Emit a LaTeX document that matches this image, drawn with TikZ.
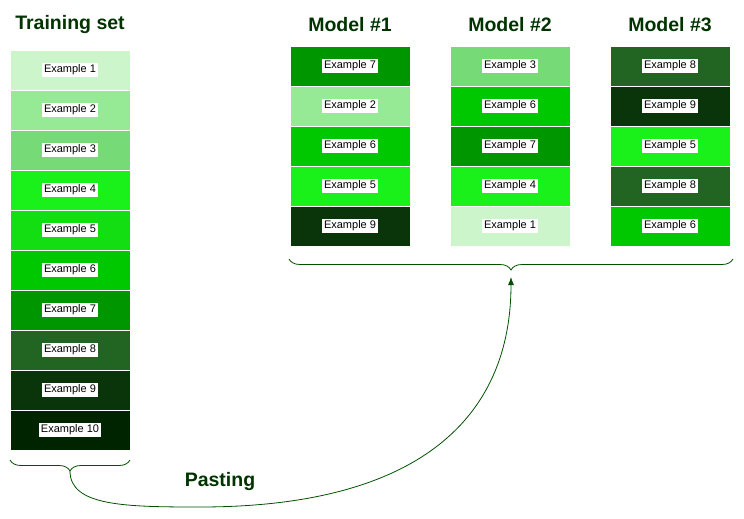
\documentclass[tikz,border=0pt]{standalone}
\usepackage{fontspec}
\setmainfont{Liberation Sans}
\usetikzlibrary{arrows.meta,positioning,decorations.pathreplacing}
\definecolor{ex1}{RGB}{204,245,204}
\definecolor{ex2}{RGB}{150,234,150}
\definecolor{ex3}{RGB}{118,218,118}
\definecolor{ex4}{RGB}{26,240,26}
\definecolor{ex5}{RGB}{18,222,18}
\definecolor{ex6}{RGB}{0,200,0}
\definecolor{ex7}{RGB}{0,150,0}
\definecolor{ex8}{RGB}{34,100,34}
\definecolor{ex9}{RGB}{10,52,10}
\definecolor{ex10}{RGB}{0,36,0}
\definecolor{darkgreen}{RGB}{0,51,0}
\definecolor{linegreen}{RGB}{0,80,0}
\newcommand{\ex}[1]{\colorbox{white}{#1}}
\tikzset{
  CellStyle/.style = {rectangle, draw=white, line width=0.8pt, outer sep=0pt,
                      minimum width=120pt, minimum height=40pt, inner sep=0pt,
                      font=\fontsize{11}{13}\selectfont},
  TitleStyle/.style = {text=darkgreen, font=\fontsize{19.5}{23}\selectfont\bfseries},
  BraceStyle/.style = {linegreen, line width=0.8pt,
                       decorate, decoration={brace, mirror, amplitude=11pt}},
  LinkStyle/.style = {linegreen, line width=0.8pt, -{Latex[width=6pt,length=8pt]}} }
\setlength{\fboxsep}{2pt}

\begin{document}
\begin{tikzpicture}[x=1pt,y=-1pt]
  \useasboundingbox (0,0) rectangle (744,519);
  % titles
  \node[TitleStyle] (title0) at (70,25) {Training set};
  \node[TitleStyle] (title1) at (350,25) {Model \#1};
  \node[TitleStyle] (title2) at (510,25) {Model \#2};
  \node[TitleStyle] (title3) at (670,25) {Model \#3};
  % training set
  \node[CellStyle, fill=ex1] (T1) at (70,70) {\ex{Example 1}};
  \node[CellStyle, fill=ex2, below=0pt of T1] (T2) {\ex{Example 2}};
  \node[CellStyle, fill=ex3, below=0pt of T2] (T3) {\ex{Example 3}};
  \node[CellStyle, fill=ex4, below=0pt of T3] (T4) {\ex{Example 4}};
  \node[CellStyle, fill=ex5, below=0pt of T4] (T5) {\ex{Example 5}};
  \node[CellStyle, fill=ex6, below=0pt of T5] (T6) {\ex{Example 6}};
  \node[CellStyle, fill=ex7, below=0pt of T6] (T7) {\ex{Example 7}};
  \node[CellStyle, fill=ex8, below=0pt of T7] (T8) {\ex{Example 8}};
  \node[CellStyle, fill=ex9, below=0pt of T8] (T9) {\ex{Example 9}};
  \node[CellStyle, fill=ex10, below=0pt of T9] (T10) {\ex{Example 10}};
  % model 1
  \node[CellStyle, fill=ex7] (A1) at (350,66) {\ex{Example 7}};
  \node[CellStyle, fill=ex2, below=0pt of A1] (A2) {\ex{Example 2}};
  \node[CellStyle, fill=ex6, below=0pt of A2] (A3) {\ex{Example 6}};
  \node[CellStyle, fill=ex4, below=0pt of A3] (A4) {\ex{Example 5}};
  \node[CellStyle, fill=ex9, below=0pt of A4] (A5) {\ex{Example 9}};
  % model 2
  \node[CellStyle, fill=ex3] (B1) at (510,66) {\ex{Example 3}};
  \node[CellStyle, fill=ex6, below=0pt of B1] (B2) {\ex{Example 6}};
  \node[CellStyle, fill=ex7, below=0pt of B2] (B3) {\ex{Example 7}};
  \node[CellStyle, fill=ex4, below=0pt of B3] (B4) {\ex{Example 4}};
  \node[CellStyle, fill=ex1, below=0pt of B4] (B5) {\ex{Example 1}};
  % model 3
  \node[CellStyle, fill=ex8] (C1) at (670,66) {\ex{Example 8}};
  \node[CellStyle, fill=ex9, below=0pt of C1] (C2) {\ex{Example 9}};
  \node[CellStyle, fill=ex4, below=0pt of C2] (C3) {\ex{Example 5}};
  \node[CellStyle, fill=ex8, below=0pt of C3] (C4) {\ex{Example 8}};
  \node[CellStyle, fill=ex6, below=0pt of C4] (C5) {\ex{Example 6}};
  % braces
  \draw[BraceStyle] ([yshift=-10pt]T10.south west) -- ([yshift=-10pt]T10.south east);
  \draw[BraceStyle] ([xshift=-1pt,yshift=-13pt]A5.south west) -- ([xshift=3pt,yshift=-13pt]C5.south east);
  \coordinate (tipT) at ([yshift=-21pt]T10.south);
  \coordinate (low) at (200,507);
  \coordinate (tipM) at (511,277);
  % pasting
  \draw[LinkStyle] (tipT) .. controls +(0,35) and +(-75,0) .. (low)
                          .. controls +(220,0) and +(0,140) .. (tipM);
  \node[TitleStyle] (paste) at (220,481) {Pasting};
\end{tikzpicture}
\end{document}
